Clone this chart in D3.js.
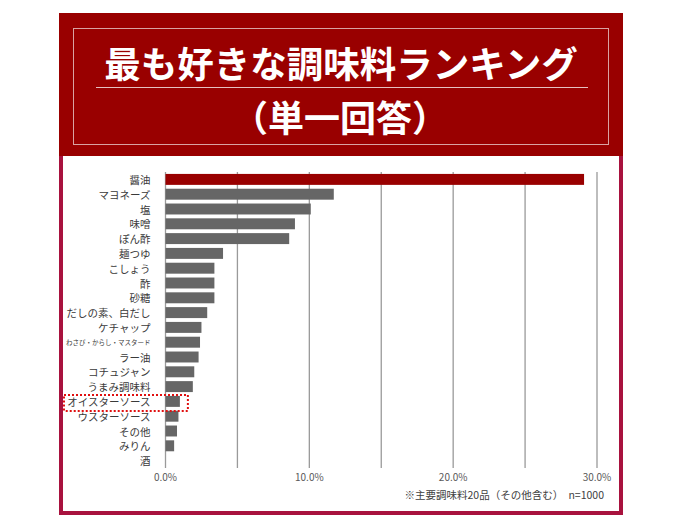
<!DOCTYPE html>
<html><head><meta charset="utf-8">
<script src="https://cdn.jsdelivr.net/npm/d3@7/dist/d3.min.js"></script>
<style>body{margin:0;background:#fff;font-family:"Noto Sans CJK JP","Noto Sans",sans-serif}</style>
</head><body><svg id="c" width="700" height="525"></svg>
<script>
const titleText = "最も好きな調味料ランキング";
const subtitleText = "（単一回答）";
const categories = ["醤油","マヨネーズ","塩","味噌","ぽん酢","麺つゆ","こしょう","酢","砂糖","だしの素、白だし","ケチャップ","わさび・からし・マスタード","ラー油","コチュジャン","うまみ調味料","オイスターソース","ウスターソース","その他","みりん","酒"];
const values = [29.1,11.7,10.1,9.0,8.6,4.0,3.4,3.4,3.4,2.9,2.5,2.4,2.3,2.0,1.9,1.0,0.9,0.8,0.6,0.0];
const tickValues = [0,10,20,30];
const gridValues = [0,5,10,15,20,25,30];
const highlightCategory = "オイスターソース";
const noteText = "※主要調味料20品（その他含む）\u3000n=1000";

const svg = d3.select("#c");
const font = '"Noto Sans CJK JP","Noto Sans",sans-serif';

// frame
svg.append("rect").attr("x",61).attr("y",15).attr("width",560).attr("height",498)
  .attr("fill","#fff").attr("stroke","#a8123e").attr("stroke-width",4);
svg.append("rect").attr("x",59).attr("y",13).attr("width",564).attr("height",143).attr("fill","#990000");
svg.append("rect").attr("x",73.5).attr("y",28.5).attr("width",535).attr("height",116)
  .attr("fill","none").attr("stroke","#d9a3a3").attr("stroke-width",1);
svg.append("line").attr("x1",96).attr("x2",588).attr("y1",87.5).attr("y2",87.5)
  .attr("stroke","#e6c0c0").attr("stroke-width",1);
svg.append("text").attr("x",341).attr("y",62).attr("text-anchor","middle").attr("dominant-baseline","central")
  .attr("font-family",font).attr("font-weight","bold").attr("font-size",36.5).attr("fill","#fff").text(titleText);
svg.append("text").attr("x",340).attr("y",116).attr("text-anchor","middle").attr("dominant-baseline","central")
  .attr("font-family",font).attr("font-weight","bold").attr("font-size",36).attr("fill","#fff").text(subtitleText);

const x = d3.scaleLinear().domain([0,30]).range([165.5,597]);
const y = d3.scaleBand().domain(categories).range([172,468]).paddingInner(0.26).paddingOuter(0.13);

// grid
svg.append("g").selectAll("line").data(gridValues).join("line")
  .attr("x1",d=>x(d)).attr("x2",d=>x(d)).attr("y1",172).attr("y2",468)
  .attr("stroke","#9a9a9a").attr("stroke-width",1.3);

// bars
svg.append("g").selectAll("rect").data(categories).join("rect")
  .attr("x",x(0)).attr("y",d=>y(d)).attr("height",y.bandwidth())
  .attr("width",(d,i)=>x(values[i])-x(0))
  .attr("fill",(d,i)=>i===0?"#990000":"#666666");

// category labels
svg.append("g").selectAll("text").data(categories).join("text")
  .attr("x",x(0)-15).attr("y",d=>y(d)+y.bandwidth()/2).attr("text-anchor","end")
  .attr("dominant-baseline","central").attr("font-family",font)
  .attr("font-size",d=>d.length>10?6.5:10.5).attr("fill","#3a3a3a").text(d=>d);

// tick labels
svg.append("g").selectAll("text").data(tickValues).join("text")
  .attr("x",d=>x(d)).attr("y",476).attr("text-anchor","middle").attr("dominant-baseline","central")
  .attr("font-family",font).attr("font-size",10).attr("fill","#595959").text(d=>d.toFixed(1)+"%");

// highlight
const hy = y(highlightCategory);
svg.append("rect").attr("x",64).attr("y",hy-1).attr("width",x(values[categories.indexOf(highlightCategory)])+8-64)
  .attr("height",y.bandwidth()+5).attr("fill","none").attr("stroke","#e01010").attr("stroke-width",2)
  .attr("stroke-dasharray","2,2");

svg.append("text").attr("x",604).attr("y",494).attr("text-anchor","end").attr("dominant-baseline","central")
  .attr("font-family",font).attr("font-size",10.5).attr("fill","#404040").text(noteText);
</script></body></html>
